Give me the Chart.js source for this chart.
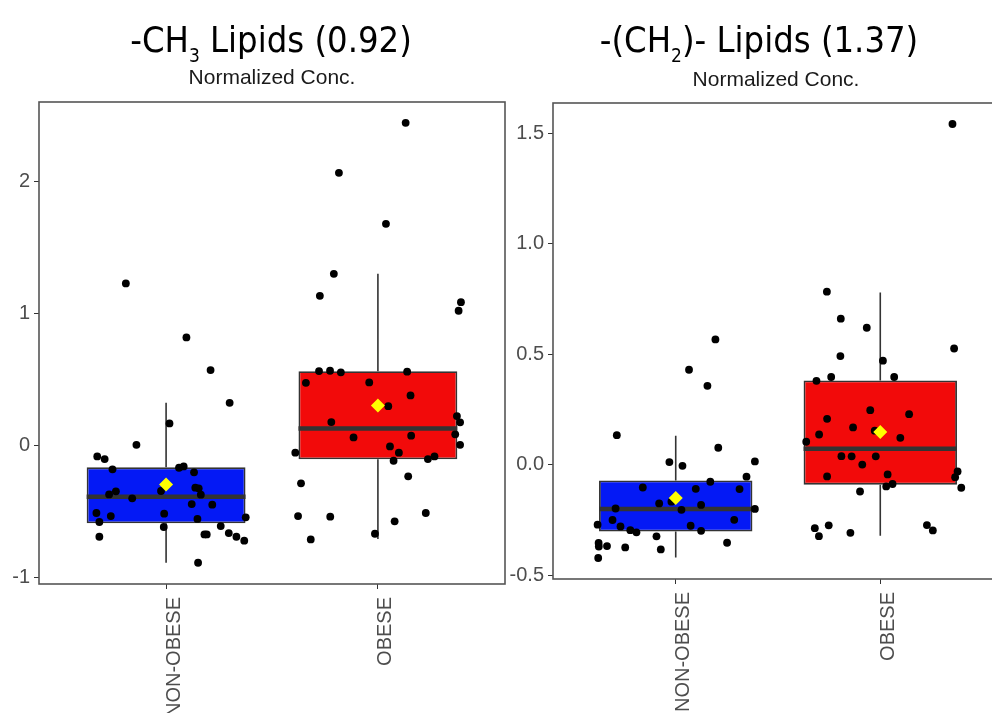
<!DOCTYPE html>
<html>
<head>
<meta charset="utf-8">
<script src="https://cdn.jsdelivr.net/npm/chart.js@4/dist/chart.umd.min.js"></script>
<style>
  html, body { margin: 0; padding: 0; background: #ffffff; overflow: hidden; }
  #wrap { position: relative; width: 992px; height: 713px; overflow: hidden; background: #ffffff; }
  canvas { position: absolute; top: 0; }
  #c1 { left: 0px; }
  #c2 { left: 510px; }
  .title { position: absolute; font-family: "DejaVu Sans Condensed", "DejaVu Sans", sans-serif; font-stretch: condensed;
           font-size: 36px; line-height: 36px; color: #000; white-space: nowrap; transform: translateX(-50%); }
  .title .sb { font-size: 19px; position: relative; top: 10px; }
  .sub { position: absolute; font-family: "Liberation Sans", Arial, sans-serif; font-size: 21px; line-height: 22px;
         color: #1a1a1a; white-space: nowrap; transform: translateX(-50%); }
</style>
</head>
<body>
<div id="wrap">
  <canvas id="c1" width="520" height="713"></canvas>
  <canvas id="c2" width="510" height="713"></canvas>
  <div class="title" style="left:271px; top:22px;">-CH<span class="sb">3</span> Lipids (0.92)</div>
  <div class="sub" style="left:272px; top:66px;">Normalized Conc.</div>
  <div class="title" style="left:759px; top:22px;">-(CH<span class="sb">2</span>)- Lipids (1.37)</div>
  <div class="sub" style="left:776px; top:68px;">Normalized Conc.</div>
</div>
<script>
// ---------------- data ----------------
const CATEGORIES = ['NON-OBESE', 'OBESE'];

// Panel 1: -CH3 Lipids
const CH3_Y_TICK_STEP = 1;
const CH3_Q1 = [-0.593, -0.108];
const CH3_MEDIAN = [-0.392, 0.126];
const CH3_Q3 = [-0.169, 0.560];
const CH3_WHISKER_LO = [-0.892, -0.712];
const CH3_WHISKER_HI = [0.320, 1.298];
const CH3_MEAN = [-0.298, 0.300];
const CH3_NONOBESE_VALUES = [1.225, 0.816, 0.568, 0.320, 0.164, 0.002, -0.086, -0.106, -0.184, -0.172, -0.162, -0.207,
  -0.351, -0.374, -0.404, -0.348, -0.323, -0.328, -0.376, -0.447, -0.452, -0.515, -0.538, -0.520, -0.583, -0.560,
  -0.548, -0.621, -0.695, -0.677, -0.677, -0.614, -0.667, -0.695, -0.725, -0.892];
const CH3_NONOBESE_JITTER = [-0.19, 0.096, 0.21, 0.30, 0.016, -0.14, -0.325, -0.29, -0.253, 0.061, 0.083, 0.132,
  -0.237, -0.269, -0.16, -0.024, 0.138, 0.154, 0.164, 0.121, 0.218, -0.329, -0.261, -0.009, -0.315, 0.148,
  0.376, -0.011, -0.315, 0.181, 0.192, 0.258, 0.296, 0.332, 0.369, 0.151];
const CH3_OBESE_VALUES = [2.442, 2.063, 1.677, 1.298, 1.131, 1.083, 1.018, 0.561, 0.563, 0.551, 0.556, 0.472, 0.475,
  0.376, 0.295, 0.174, 0.220, 0.172, 0.058, 0.071, 0.081, 0.002, -0.058, -0.010, -0.058, -0.119, -0.106, -0.086,
  -0.237, -0.290, -0.538, -0.543, -0.515, -0.578, -0.715, -0.672];
const CH3_OBESE_JITTER = [0.131, -0.184, 0.038, -0.208, -0.274, 0.392, 0.381, -0.278, -0.226, -0.175, 0.138, -0.34, -0.041,
  0.154, 0.049, -0.22, 0.373, 0.388, -0.115, 0.157, 0.365, 0.388, -0.39, 0.057, 0.099, 0.074, 0.236, 0.267,
  0.143, -0.363, -0.377, -0.225, 0.226, 0.079, -0.317, -0.014];

// Panel 2: -(CH2)- Lipids
const CH2_Y_TICK_STEP = 0.5;
const CH2_Q1 = [-0.302, -0.090];
const CH2_MEDIAN = [-0.200, 0.072];
const CH2_Q3 = [-0.071, 0.381];
const CH2_WHISKER_LO = [-0.420, -0.321];
const CH2_WHISKER_HI = [0.131, 0.780];
const CH2_MEAN = [-0.151, 0.148];
const CH2_NONOBESE_VALUES = [0.567, 0.430, 0.357, 0.134, 0.077, 0.012, -0.005, 0.015, -0.054, -0.077, -0.103, -0.109,
  -0.110, -0.175, -0.167, -0.182, -0.198, -0.204, -0.200, -0.250, -0.249, -0.271, -0.279, -0.276, -0.296, -0.306,
  -0.299, -0.324, -0.354, -0.370, -0.368, -0.374, -0.353, -0.383, -0.422];
const CH2_NONOBESE_JITTER = [0.194, 0.065, 0.155, -0.288, 0.208, -0.031, 0.033, 0.387, 0.346, 0.169, -0.161, 0.098,
  0.312, -0.081, -0.021, 0.124, -0.294, 0.028, 0.387, -0.309, 0.286, -0.382, -0.27, 0.073, -0.222, -0.192,
  0.124, -0.094, -0.377, -0.376, -0.336, -0.247, 0.251, -0.073, -0.379];
const CH2_OBESE_VALUES = [1.542, 0.783, 0.661, 0.620, 0.526, 0.492, 0.471, 0.380, 0.397, 0.397, 0.247, 0.229, 0.208,
  0.169, 0.154, 0.137, 0.122, 0.104, 0.039, 0.038, 0.038, 0.001, -0.053, -0.044, -0.030, -0.056, -0.098, -0.087,
  -0.104, -0.121, -0.287, -0.274, -0.323, -0.308, -0.273, -0.297];
const CH2_OBESE_JITTER = [0.353, -0.261, -0.193, -0.066, 0.361, -0.195, 0.013, -0.312, -0.24, 0.068, -0.049, 0.141, -0.26,
  -0.133, -0.027, -0.299, 0.098, -0.362, -0.19, -0.14, -0.022, -0.088, -0.26, 0.036, 0.378, 0.366, 0.029, 0.06,
  0.396, -0.099, -0.32, -0.252, -0.3, -0.146, 0.228, 0.257];

// ---------------- styling ----------------
const BOX_COLORS = ['#0419F5', '#F20A0A'];
const LINE_DARK = '#333333';
const BOX_WIDTH = 0.75;
const TICK_FONT = { family: 'Liberation Sans', size: 20 };
const TICK_COLOR = '#4d4d4d';

const framePlugin = {
  id: 'frame',
  afterDatasetsDraw(chart) {
    const a = chart.chartArea, ctx = chart.ctx;
    ctx.save();
    ctx.strokeStyle = '#555555';
    ctx.lineWidth = 1.6;
    ctx.strokeRect(a.left, a.top, a.right - a.left, a.bottom - a.top);
    ctx.restore();
  }
};

function buildPanel(canvasId, p) {
  const whiskers = [], medians = [], boxes = [], means = [];
  CATEGORIES.forEach((c, i) => {
    whiskers.push({ x: i, y: p.lo[i] }, { x: i, y: p.q1[i] }, { x: i, y: null },
                  { x: i, y: p.q3[i] }, { x: i, y: p.hi[i] }, { x: i, y: null });
    medians.push({ x: i - BOX_WIDTH / 2, y: p.med[i] }, { x: i + BOX_WIDTH / 2, y: p.med[i] }, { x: i, y: null });
    boxes.push({ x: i, y: [p.q1[i], p.q3[i]] });
    means.push({ x: i, y: p.mean[i] });
  });
  const points = [];
  p.groups.forEach((g, i) => {
    g.values.forEach((v, k) => points.push({ x: i + g.jitter[k], y: v }));
  });

  new Chart(document.getElementById(canvasId), {
    type: 'scatter',
    data: {
      datasets: [
        { type: 'line', data: whiskers, borderColor: LINE_DARK, borderWidth: 1.6, pointRadius: 0,
          spanGaps: false, fill: false, order: 5 },
        { type: 'bar', data: boxes, backgroundColor: BOX_COLORS, borderColor: LINE_DARK, borderWidth: 1.8,
          borderSkipped: false, barPercentage: BOX_WIDTH, categoryPercentage: 1, grouped: false, order: 4 },
        { type: 'line', data: medians, borderColor: LINE_DARK, borderWidth: 4.5, pointRadius: 0,
          spanGaps: false, fill: false, borderCapStyle: 'butt', order: 3 },
        { type: 'scatter', data: points, backgroundColor: '#000000', pointRadius: 3.9, pointBorderWidth: 0,
          pointHoverRadius: 3.9, order: 2 },
        { type: 'scatter', data: means, backgroundColor: '#FFFF00', pointStyle: 'rectRot', pointRadius: 7,
          pointBorderWidth: 0, order: 1 }
      ]
    },
    options: {
      responsive: false,
      animation: false,
      events: [],
      layout: { padding: p.padding },
      plugins: { legend: { display: false }, tooltip: { enabled: false } },
      scales: {
        x: {
          type: 'linear', min: -0.6, max: 1.6, offset: false,
          grid: { display: true, drawOnChartArea: false, drawTicks: true, tickLength: 5, color: LINE_DARK, offset: false },
          border: { display: false },
          afterBuildTicks: (scale) => { scale.ticks = CATEGORIES.map((c, i) => ({ value: i })); },
          afterFit: (scale) => { scale.height = p.xAxisHeight; },
          ticks: {
            autoSkip: false, minRotation: 90, maxRotation: 90, padding: 8, labelOffset: 8,
            font: TICK_FONT, color: TICK_COLOR,
            callback: (v) => CATEGORIES[v]
          }
        },
        y: {
          type: 'linear', min: p.yMin, max: p.yMax, beginAtZero: false,
          grid: { display: true, drawOnChartArea: false, drawTicks: true, tickLength: 5, color: LINE_DARK },
          border: { display: false },
          afterFit: (scale) => { scale.width = p.yAxisWidth; },
          ticks: {
            stepSize: p.step, includeBounds: false, padding: 4,
            font: TICK_FONT, color: TICK_COLOR,
            callback: (v) => p.step < 1 ? v.toFixed(1) : String(v)
          }
        }
      }
    },
    plugins: [framePlugin]
  });
}

buildPanel('c1', {
  q1: CH3_Q1, med: CH3_MEDIAN, q3: CH3_Q3, lo: CH3_WHISKER_LO, hi: CH3_WHISKER_HI, mean: CH3_MEAN,
  groups: [{ values: CH3_NONOBESE_VALUES, jitter: CH3_NONOBESE_JITTER },
           { values: CH3_OBESE_VALUES, jitter: CH3_OBESE_JITTER }],
  yMin: -1.053, yMax: 2.6, step: CH3_Y_TICK_STEP,
  padding: { top: 102, right: 15, bottom: 0, left: 0 },
  yAxisWidth: 39, xAxisHeight: 129
});

buildPanel('c2', {
  q1: CH2_Q1, med: CH2_MEDIAN, q3: CH2_Q3, lo: CH2_WHISKER_LO, hi: CH2_WHISKER_HI, mean: CH2_MEAN,
  groups: [{ values: CH2_NONOBESE_VALUES, jitter: CH2_NONOBESE_JITTER },
           { values: CH2_OBESE_VALUES, jitter: CH2_OBESE_JITTER }],
  yMin: -0.517, yMax: 1.637, step: CH2_Y_TICK_STEP,
  padding: { top: 103, right: 17, bottom: 0, left: 0 },
  yAxisWidth: 43, xAxisHeight: 134
});
</script>
</body>
</html>
